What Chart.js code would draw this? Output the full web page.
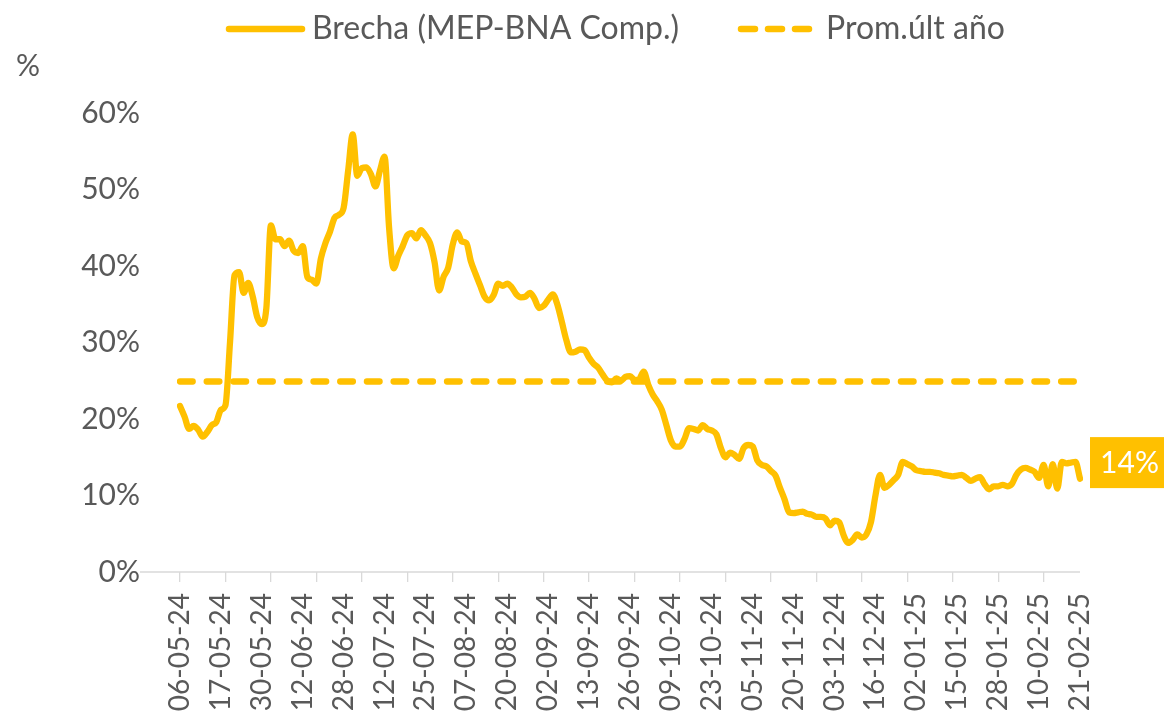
<!DOCTYPE html>
<html>
<head>
<meta charset="utf-8">
<script src="https://cdn.jsdelivr.net/npm/chart.js@4.4.1/dist/chart.umd.min.js"></script>
<style>
  html, body { margin: 0; padding: 0; background: #ffffff; overflow: hidden; }
  #wrap { width: 1164px; height: 724px; position: relative; }
</style>
</head>
<body>
<div id="wrap"><canvas id="c" width="1164" height="724"></canvas></div>
<script>
// ---------------- DATA ----------------
const tickLabels = [
  '06-05-24','17-05-24','30-05-24','12-06-24','28-06-24','12-07-24','25-07-24',
  '07-08-24','20-08-24','02-09-24','13-09-24','26-09-24','09-10-24','23-10-24',
  '05-11-24','20-11-24','03-12-24','16-12-24','02-01-25','15-01-25','28-01-25',
  '10-02-25','21-02-25'
];
const seriesNames = ['Brecha (MEP-BNA Comp.)', 'Prom.últ año'];
const brecha = [
  21.7, 20.3, 18.7, 19.1, 18.6, 17.7, 18.3, 19.2, 19.6, 21.2,
  21.8, 30.0, 38.8, 39.2, 36.5, 37.8, 36.0, 33.3, 32.4, 34.5,
  45.3, 43.5, 43.5, 42.6, 43.3, 42.0, 41.7, 42.6, 38.6, 38.2,
  37.7, 41.0, 43.0, 44.5, 46.3, 46.7, 47.6, 52.5, 57.2, 51.8,
  52.8, 52.9, 52.0, 50.4, 52.5, 54.3, 45.0, 39.7, 41.3, 42.6,
  44.0, 44.3, 43.6, 44.7, 44.0, 43.0, 40.5, 36.8, 38.6, 39.8,
  42.8, 44.4, 43.2, 43.0, 40.6, 39.0, 37.5, 36.0, 35.5, 36.2,
  37.7, 37.4, 37.7, 37.2, 36.3, 35.9, 36.0, 36.5, 35.7, 34.5,
  34.8, 35.6, 36.3, 35.0, 32.7, 30.3, 28.7, 28.8, 29.1, 29.0,
  28.0, 27.2, 26.7, 25.8, 25.0, 24.8, 25.3, 25.0, 25.5, 25.6,
  25.1, 25.2, 26.2, 24.5, 23.2, 22.3, 21.2, 19.2, 17.2, 16.4,
  16.4, 17.4, 18.8, 18.7, 18.5, 19.2, 18.7, 18.5, 18.0, 16.2,
  15.0, 15.6, 15.3, 14.8, 16.2, 16.6, 16.4, 14.6, 14.0, 13.8,
  13.2, 12.6, 11.0, 9.5, 7.8, 7.7, 7.8, 7.9, 7.6, 7.5,
  7.2, 7.2, 7.0, 6.1, 6.7, 6.5, 4.8, 3.8, 4.2, 4.9,
  4.5, 4.9, 6.5, 10.0, 12.7, 11.0, 11.4, 12.0, 12.7, 14.4,
  14.1, 13.8, 13.3, 13.2, 13.1, 13.1, 13.0, 12.9, 12.7, 12.6,
  12.5, 12.6, 12.7, 12.3, 11.9, 12.2, 12.4, 11.5, 10.8, 11.2,
  11.2, 11.4, 11.2, 11.5, 12.7, 13.4, 13.6, 13.4, 13.1, 12.3,
  14.0, 11.2, 14.1, 10.9, 14.4, 14.2, 14.3, 14.4, 12.2
];
const promUltAnio = 24.9;
const ultimoLabelValue = 14.3;
const ultimoLabelText = '14%';
const unitLabel = '%';

// ---------------- STYLE ----------------
const GOLD = '#FFC000';
const TEXT = '#595959';
const AXIS = '#D9D9D9';
const FONT = 'Lato';
const LABEL_EVERY = 9;
const TICK_EVERY = 10;

const categories = brecha.map((_, i) => (i % LABEL_EVERY === 0 ? tickLabels[i / LABEL_EVERY] : ''));

const decorPlugin = {
  id: 'decor',
  beforeDatasetsDraw(chart) {
    const { ctx, chartArea } = chart;
    ctx.save();
    ctx.strokeStyle = AXIS;
    ctx.lineWidth = 1.5;
    ctx.beginPath();
    ctx.moveTo(140, chartArea.bottom);
    ctx.lineTo(chartArea.right, chartArea.bottom);
    ctx.stroke();
    ctx.restore();
  },
  afterDraw(chart) {
    const { ctx, chartArea, scales } = chart;
    ctx.save();
    // unit label
    ctx.fillStyle = TEXT;
    ctx.font = '30px ' + FONT;
    ctx.textBaseline = 'middle';
    ctx.textAlign = 'left';
    ctx.fillText(unitLabel, 16, 66);

    // legend
    ctx.lineCap = 'round';
    ctx.strokeStyle = GOLD;
    ctx.lineWidth = 6.5;
    ctx.setLineDash([]);
    ctx.beginPath();
    ctx.moveTo(229, 29);
    ctx.lineTo(302, 29);
    ctx.stroke();
    ctx.setLineDash([14, 13]);
    ctx.beginPath();
    ctx.moveTo(741, 29);
    ctx.lineTo(809, 29);
    ctx.stroke();
    ctx.setLineDash([]);
    ctx.textBaseline = 'alphabetic';
    ctx.fillStyle = TEXT;
    ctx.font = '32px ' + FONT;
    ctx.fillText(seriesNames[0], 312, 39);
    ctx.fillText(seriesNames[1], 826, 39);

    // last value label
    const yc = scales.y.getPixelForValue(ultimoLabelValue);
    const bx = chartArea.right + 10;
    ctx.fillStyle = GOLD;
    ctx.fillRect(bx, yc - 25.5, 90, 51);
    ctx.fillStyle = '#FFFFFF';
    ctx.font = '30px ' + FONT;
    ctx.textAlign = 'center';
    ctx.textBaseline = 'middle';
    ctx.fillText(ultimoLabelText, bx + 39.5, yc + 1);
    ctx.restore();
  }
};

Chart.defaults.font.family = FONT;
Chart.defaults.color = TEXT;

new Chart(document.getElementById('c'), {
  type: 'line',
  data: {
    labels: categories,
    datasets: [
      {
        label: seriesNames[0],
        data: brecha,
        borderColor: GOLD,
        backgroundColor: GOLD,
        borderWidth: 6.3,
        pointRadius: 0,
        cubicInterpolationMode: 'monotone',
        borderCapStyle: 'round',
        borderJoinStyle: 'round',
        order: 1
      },
      {
        label: seriesNames[1],
        data: [
          { x: tickLabels[0], y: promUltAnio },
          { x: tickLabels[tickLabels.length - 1], y: promUltAnio }
        ],
        borderColor: GOLD,
        backgroundColor: GOLD,
        borderWidth: 6.3,
        borderDash: [12.7, 14],
        borderCapStyle: 'round',
        pointRadius: 0,
        order: 2
      }
    ]
  },
  options: {
    responsive: false,
    animation: false,
    layout: { padding: { left: 80, right: 84, top: 113, bottom: 0 } },
    plugins: {
      legend: { display: false },
      tooltip: { enabled: false }
    },
    scales: {
      x: {
        type: 'category',
        offset: false,
        border: { display: false },
        grid: {
          drawOnChartArea: false,
          drawTicks: true,
          tickLength: 10,
          lineWidth: 1.3,
          color: (c) => (c.index % TICK_EVERY === 0 ? AXIS : 'rgba(0,0,0,0)')
        },
        ticks: {
          autoSkip: false,
          minRotation: 90,
          maxRotation: 90,
          padding: 11,
          color: TEXT,
          font: { size: 28, family: FONT },
          callback: function (v, i) { return categories[i]; }
        },
        afterFit: (s) => { s.height = 724 - 572; }
      },
      y: {
        min: 0,
        max: 60,
        border: { display: false },
        grid: { display: false, drawTicks: false },
        ticks: {
          stepSize: 10,
          padding: 40,
          color: TEXT,
          font: { size: 30, family: FONT },
          callback: (v) => v + '%'
        },
        afterFit: (s) => { s.width = 100; }
      }
    }
  },
  plugins: [decorPlugin]
});
</script>
</body>
</html>
